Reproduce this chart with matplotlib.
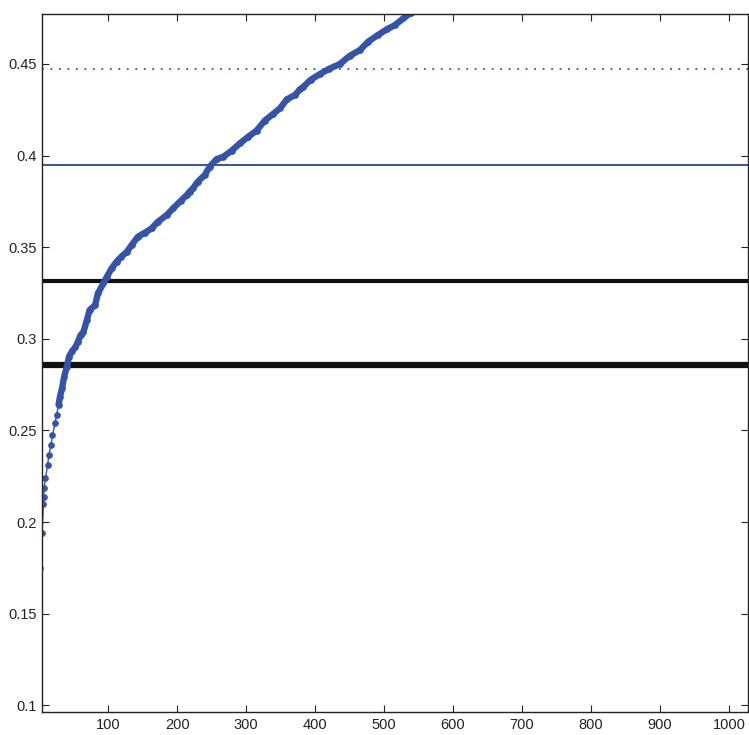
import numpy as np
import matplotlib.pyplot as plt

# curve readings (index, value)
idx = [1, 4, 6, 6.5, 7, 9, 12, 14, 17, 19, 23, 25, 28, 30, 33, 36, 40, 43, 48, 52, 56,
       60, 64, 69, 73, 81, 85, 93, 98, 105, 112, 119, 127, 134, 143, 153, 163, 172,
       185, 194, 205, 214, 218, 223, 230, 240, 247, 257, 267, 279, 291, 303, 315, 327,
       339, 349, 359, 371, 378, 383, 394, 407, 420, 436, 450, 465, 477, 491, 504, 516,
       528, 539]
vals = [0.175, 0.1942, 0.2098, 0.2138, 0.2184, 0.2239, 0.2311, 0.2366, 0.2420, 0.2475,
        0.2539, 0.2584, 0.2639, 0.2684, 0.2730, 0.2793, 0.2848, 0.2902, 0.2935, 0.2953,
        0.2984, 0.3021, 0.3037, 0.3103, 0.3157, 0.3184, 0.3248, 0.3303, 0.3339, 0.3385,
        0.3421, 0.3448, 0.3475, 0.3512, 0.3557, 0.3579, 0.3603, 0.3639, 0.3676, 0.3712,
        0.3752, 0.3785, 0.3803, 0.3822, 0.3858, 0.3894, 0.3939, 0.3980, 0.3994, 0.4027,
        0.4067, 0.4103, 0.4136, 0.4191, 0.4227, 0.4258, 0.4307, 0.4331, 0.4362, 0.4376,
        0.4415, 0.4445, 0.4473, 0.4500, 0.4544, 0.4576, 0.4622, 0.4658, 0.4689, 0.4713,
        0.4749, 0.4780]

# reference levels
dotted_level = 0.4473
blue_level = 0.3951
black_level = 0.3317
thick_level = 0.2858

blue = '#3553a8'

plt.rcParams['font.family'] = ['Liberation Sans', 'DejaVu Sans']

fig = plt.figure(figsize=(7.49, 7.35), dpi=100)
ax = fig.add_axes([0.0565, 0.031, 0.9415, 0.95])

ax.axhline(dotted_level, color=blue, lw=1.3, ls=(0, (1, 3.7)))
ax.axhline(blue_level, color=blue, lw=1.4)
ax.axhline(black_level, color='#111111', lw=3.0)
ax.axhline(thick_level, color='#111111', lw=4.5)

x = np.array(idx)
y = np.array(vals)
ax.plot(x, y, color=blue, lw=1.0, marker='o', ms=3.8, mec=blue, mfc=blue)
# dense part of the series reads as a solid band
dense = x >= 28
ax.plot(x[dense], y[dense], color=blue, lw=4.6, solid_capstyle='round')

ax.set_xlim(4.4, 1027)
ax.set_ylim(0.0962, 0.4773)
ax.set_xticks(np.arange(100, 1001, 100))
ax.set_yticks([0.1, 0.15, 0.2, 0.25, 0.3, 0.35, 0.4, 0.45])
ax.set_yticklabels(['0.1', '0.15', '0.2', '0.25', '0.3', '0.35', '0.4', '0.45'])
ax.tick_params(direction='in', length=5, width=0.8, top=True, right=True,
               labelsize=10.5, colors='#222222', pad=4)
for s in ax.spines.values():
    s.set_color('#222222')
    s.set_linewidth(1.0)

fig.savefig('out.png', dpi=100)
